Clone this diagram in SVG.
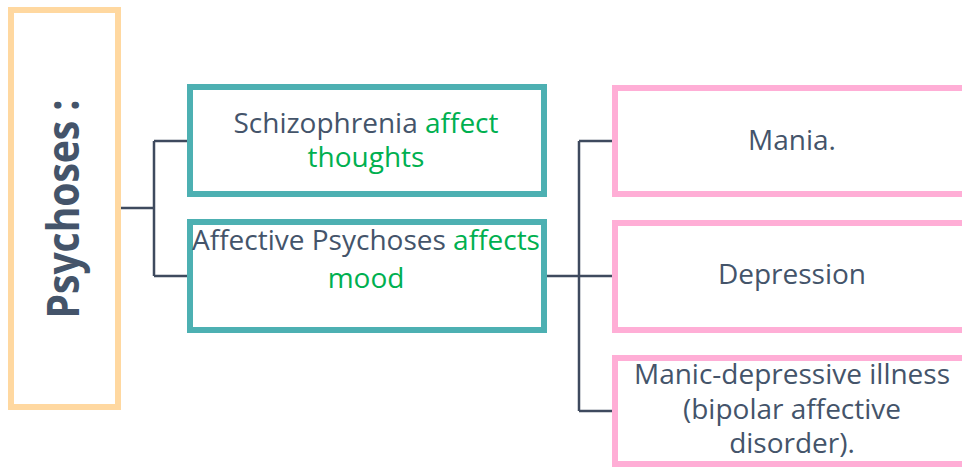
<svg xmlns="http://www.w3.org/2000/svg" width="962" height="468" viewBox="0 0 962 468">
<style>
.t{font-family:"Open Sans","Noto Sans",sans-serif;font-size:28px;fill:#44546A;text-anchor:middle}
.g{fill:#00B050}
.teal{fill:#fff;stroke:#4DB0B2;stroke-width:6}
.pink{fill:#fff;stroke:#FFAED6;stroke-width:6}
.con{fill:none;stroke:#3E4A5E;stroke-width:2.5}
</style>
<rect width="962" height="468" fill="#fff"/>
<g id="connectors">
<path class="con" d="M121 208H154M154 141V276M154 141H188M154 276H188"/>
<path class="con" d="M547 276H613M579 141V411M579 141H613M579 411H613"/>
</g>
<g id="psychoses">
<rect x="11" y="10" width="107" height="397" fill="#fff" stroke="#FFD8A0" stroke-width="6"/>
<text class="t" transform="translate(79 209) rotate(-90)" style="font-weight:bold;font-size:44px" textLength="219" lengthAdjust="spacingAndGlyphs">Psychoses :</text>
</g>
<g id="schizophrenia">
<rect class="teal" x="190" y="87" width="354" height="107"/>
<text class="t" x="366" y="133">Schizophrenia <tspan class="g">affect</tspan></text>
<text class="t g" x="366" y="167">thoughts</text>
</g>
<g id="affective">
<rect class="teal" x="190" y="222" width="354" height="108"/>
<text class="t" x="366" y="250">Affective Psychoses <tspan class="g">affects</tspan></text>
<text class="t g" x="366" y="288">mood</text>
</g>
<g id="mania">
<rect class="pink" x="615" y="88" width="360" height="106"/>
<text class="t" x="792" y="150">Mania.</text>
</g>
<g id="depression">
<rect class="pink" x="615" y="223" width="360" height="107"/>
<text class="t" x="792" y="284">Depression</text>
</g>
<g id="manic">
<rect class="pink" x="615" y="358" width="360" height="106"/>
<text class="t" x="792" y="384">Manic-depressive illness</text>
<text class="t" x="792" y="419">(bipolar affective</text>
<text class="t" x="792" y="453">disorder).</text>
</g>
</svg>
